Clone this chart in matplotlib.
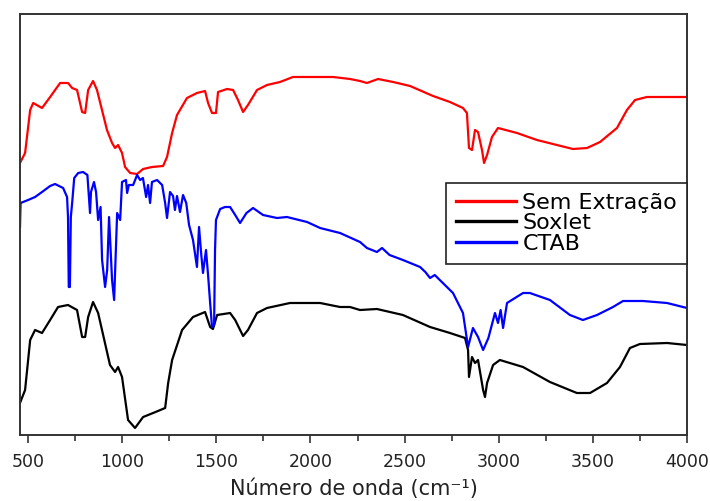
import numpy as np
import matplotlib

matplotlib.use("Agg")
import matplotlib.pyplot as plt

# FTIR spectra, transmittance in arbitrary (offset) units vs wavenumber (cm-1)
WN_SEM = [457, 484, 511, 527, 574, 617, 670, 712, 734, 760, 787, 803, 819, 845,
          866, 919, 946, 962, 978, 999, 1015, 1042, 1079, 1111, 1158, 1217, 1238,
          1265, 1291, 1344, 1397, 1440, 1456, 1477, 1498, 1509, 1557, 1589, 1615,
          1642, 1668, 1716, 1769, 1838, 1907, 2120, 2210, 2263, 2300, 2359, 2439,
          2529, 2651, 2741, 2810, 2831, 2842, 2858, 2874, 2890, 2911, 2922, 2938,
          2964, 2996, 3097, 3203, 3309, 3394, 3469, 3538, 3628, 3681, 3724, 3787,
          4000]
T_SEM = [272, 282, 325, 332, 327, 338, 352, 352, 347, 345, 323, 322, 345, 354,
         345, 305, 292, 287, 290, 282, 268, 262, 261, 266, 268, 269, 278,
         302, 320, 337, 342, 344, 332, 322, 322, 343, 346, 345, 335,
         323, 330, 345, 350, 353, 358, 358, 356, 354, 352, 356, 353,
         349, 339, 333, 327, 322, 287, 285, 305, 303, 285, 272, 280,
         298, 307, 302, 295, 290, 286, 287, 293, 307, 325, 335, 338,
         338]

WN_SOX = [457, 484, 511, 537, 574, 617, 659, 712, 760, 787, 803, 819, 845, 872,
          935, 962, 978, 999, 1031, 1068, 1111, 1164, 1228, 1244, 1265, 1318,
          1376, 1440, 1467, 1482, 1504, 1573, 1600, 1642, 1668, 1716, 1769, 1891,
          2051, 2157, 2210, 2263, 2353, 2491, 2635, 2741, 2821, 2837, 2842, 2858,
          2874, 2890, 2917, 2927, 2938, 2970, 3006, 3129, 3272, 3415, 3485, 3575,
          3644, 3697, 3750, 3894, 4000]
T_SOX = [32, 45, 95, 105, 102, 115, 128, 130, 125, 98, 98, 118, 133, 122,
         70, 63, 68, 58, 15, 7, 18, 22, 27, 52, 75, 105,
         118, 123, 108, 106, 120, 122, 115, 99, 105, 122, 127, 132,
         132, 128, 128, 125, 126, 120, 108, 102, 97, 85, 58, 78,
         72, 75, 45, 38, 52, 70, 75, 68, 53, 42, 42, 52,
         68, 87, 91, 92, 90]

WN_CTAB = [457, 460, 500, 537, 574, 617, 643, 686, 707, 712, 716, 722, 727, 734,
           745, 766, 792, 815, 829, 834, 850, 861, 872, 885, 893, 909, 920, 930,
           946, 957, 973, 989, 999, 1020, 1026, 1035, 1058, 1079, 1095, 1110,
           1127, 1137, 1148, 1158, 1185, 1212, 1228, 1238, 1254, 1270, 1280, 1291,
           1307, 1323, 1340, 1355, 1376, 1397, 1408, 1420, 1429, 1445, 1456, 1467,
           1477, 1488, 1493, 1498, 1520, 1546, 1573, 1600, 1626, 1660, 1695, 1748,
           1822, 1875, 1982, 2051, 2157, 2263, 2300, 2353, 2380, 2420, 2491, 2582,
           2610, 2635, 2660, 2757, 2810, 2837, 2863, 2890, 2917, 2945, 2980, 2996,
           3010, 3023, 3044, 3129, 3165, 3272, 3378, 3447, 3522, 3607, 3660, 3766,
           3894, 4000]
T_CTAB = [208, 232, 235, 238, 243, 249, 251, 247, 238, 218, 148, 148, 218, 232,
          257, 262, 263, 260, 222, 243, 253, 243, 215, 228, 175, 148, 165, 218,
          155, 135, 222, 215, 253, 255, 242, 250, 250, 260, 255, 257,
          238, 250, 232, 253, 255, 250, 232, 217, 243, 239, 225, 239,
          223, 240, 232, 210, 195, 168, 208, 180, 162, 185, 160, 132,
          108, 110, 185, 215, 226, 228, 228, 220, 212, 222, 227, 220,
          217, 218, 213, 207, 202, 193, 187, 183, 187, 180, 175, 168,
          163, 157, 160, 142, 122, 88, 107, 98, 85, 97, 122, 112,
          125, 107, 132, 142, 142, 135, 120, 115, 120, 128, 134, 134,
          132, 127]

LABELS = ["Sem Extração", "Soxlet", "CTAB"]
COLORS = ["#ff0000", "#000000", "#0000ff"]

plt.rcParams["font.family"] = "DejaVu Sans"

fig = plt.figure(figsize=(7.10, 5.01), dpi=100)
ax = fig.add_axes([20 / 710, 1 - 435 / 501, 667 / 710, 421 / 501])

for wn, t, lab, col in zip(
    [WN_SEM, WN_SOX, WN_CTAB], [T_SEM, T_SOX, T_CTAB], LABELS, COLORS
):
    ax.plot(wn, t, color=col, lw=1.6, label=lab)

ax.set_xlim(457, 4000)
ax.set_ylim(0, 421)
ax.set_xticks(np.arange(500, 4001, 500))
ax.set_xticks(np.arange(750, 4000, 500), minor=True)
ax.set_yticks([])
ax.tick_params(axis="x", which="major", direction="out", length=6, width=1.1,
               labelsize=12.5, pad=7, colors="#222222")
ax.tick_params(axis="x", which="minor", direction="out", length=4, width=1.1,
               colors="#222222")
for s in ax.spines.values():
    s.set_linewidth(1.4)
    s.set_color("#333333")
ax.set_xlabel("Número de onda (cm\u207b\u00b9)", fontsize=15, labelpad=5,
              color="#222222")

leg = ax.legend(
    loc="upper right",
    bbox_to_anchor=(1.0, 0.599),
    borderaxespad=0,
    fontsize=16,
    handlelength=2.7,
    handletextpad=0.3,
    labelspacing=0.02,
    borderpad=0.45,
    fancybox=False,
    framealpha=1,
    edgecolor="#222222",
)
leg.get_frame().set_linewidth(1.2)
for h in leg.get_lines():
    h.set_linewidth(2.4)

fig.savefig("out.png", dpi=100)
